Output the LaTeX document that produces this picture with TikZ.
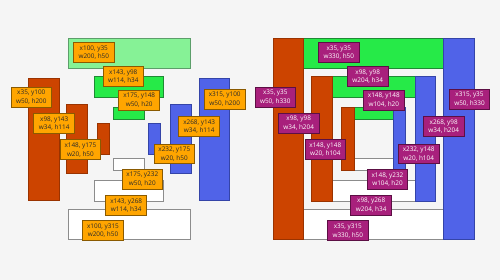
\documentclass[tikz,border=0pt]{standalone}
\usepackage{fontspec}
\setmainfont{Open Sans}
\definecolor{bgc}{HTML}{F5F5F5}
\definecolor{redf}{HTML}{CC4400}
\definecolor{redd}{HTML}{9A3300}
\definecolor{bluef}{HTML}{5063E8}
\definecolor{blued}{HTML}{3444A8}
\definecolor{greenf}{HTML}{26EA48}
\definecolor{greend}{HTML}{1E8A34}
\definecolor{lgreenf}{HTML}{86F296}
\definecolor{lgreend}{HTML}{5C9E6A}
\definecolor{whited}{HTML}{8C8C8C}
\definecolor{orangef}{HTML}{FFA500}
\definecolor{oranged}{HTML}{8A5A00}
\definecolor{magf}{HTML}{A8207C}
\definecolor{magd}{HTML}{5C0F44}
\definecolor{txtd}{HTML}{2A2A2A}
\tikzset{
  redbox/.style={fill=redf, draw=redd, line width=0.8pt},
  bluebox/.style={fill=bluef, draw=blued, line width=0.8pt},
  greenbox/.style={fill=greenf, draw=greend, line width=0.8pt},
  lgreenbox/.style={fill=lgreenf, draw=lgreend, line width=0.8pt},
  whitebox/.style={fill=white, draw=whited, line width=0.8pt},
  labbase/.style={minimum width=40.7pt, minimum height=19.8pt, inner sep=0pt, align=center, line width=0.8pt,
     font=\fontsize{6.4}{8.6}\selectfont},
  olab/.style={labbase, fill=orangef, draw=oranged, text=txtd},
  mlab/.style={labbase, fill=magf, draw=magd, text=white},
}
\begin{document}
\begin{tikzpicture}[x=1pt, y=-1pt]
\fill[bgc] (0,0) rectangle (500,280);
\useasboundingbox (0,0) rectangle (500,280);
% left panel
\begin{scope}[shift={(7.1,17)}, scale=0.61]
\draw[lgreenbox] (100,35) rectangle ++(200,50);
\draw[greenbox] (143,98) rectangle ++(114,34);
\draw[greenbox] (175,148) rectangle ++(50,20);
\draw[redbox] (35,100) rectangle ++(50,200);
\draw[redbox] (98,143) rectangle ++(34,114);
\draw[redbox] (148,175) rectangle ++(20,50);
\draw[bluebox] (315,100) rectangle ++(50,200);
\draw[bluebox] (268,143) rectangle ++(34,114);
\draw[bluebox] (232,175) rectangle ++(20,50);
\draw[whitebox] (175,232) rectangle ++(50,20);
\draw[whitebox] (143,268) rectangle ++(114,34);
\draw[whitebox] (100,315) rectangle ++(200,50);
\end{scope}
% right panel
\begin{scope}[shift={(251.6,17)}, scale=0.61]
\draw[greenbox] (35,35) rectangle ++(330,50);
\draw[greenbox] (98,98) rectangle ++(204,34);
\draw[greenbox] (148,148) rectangle ++(104,20);
\draw[whitebox] (35,315) rectangle ++(330,50);
\draw[whitebox] (98,268) rectangle ++(204,34);
\draw[whitebox] (148,232) rectangle ++(104,20);
\draw[redbox] (35,35) rectangle ++(50,330);
\draw[redbox] (98,98) rectangle ++(34,204);
\draw[redbox] (148,148) rectangle ++(20,104);
\draw[bluebox] (315,35) rectangle ++(50,330);
\draw[bluebox] (268,98) rectangle ++(34,204);
\draw[bluebox] (232,148) rectangle ++(20,104);
\end{scope}
% left labels
\node[olab] (la1) at (93.8,52.6) {x100, y35\\w200, h50};
\node[olab] (la2) at (123.3,76.6) {x143, y98\\w114, h34};
\node[olab] (la3) at (139.2,100.2) {x175, y148\\w50, h20};
\node[olab] (la4) at (31.3,97.3) {x35, y100\\w50, h200};
\node[olab] (la5) at (54.2,123.5) {x98, y143\\w34, h114};
\node[olab] (la6) at (80.4,149.8) {x148, y175\\w20, h50};
\node[olab] (la7) at (224.7,99.2) {x315, y100\\w50, h200};
\node[olab] (la8) at (199.2,126.5) {x268, y143\\w34, h114};
\node[olab] (la9) at (174.3,154) {x232, y175\\w20, h50};
\node[olab] (la10) at (142.3,179.3) {x175, y232\\w50, h20};
\node[olab] (la11) at (126.2,205.5) {x143, y268\\w114, h34};
\node[olab] (la12) at (103,230.4) {x100, y315\\w200, h50};
% right labels
\node[mlab] (ra1) at (338.8,52.7) {x35, y35\\w330, h50};
\node[mlab] (ra2) at (367.7,76.7) {x98, y98\\w204, h34};
\node[mlab] (ra3) at (383.8,100.3) {x148, y148\\w104, h20};
\node[mlab] (ra4) at (275.3,97.3) {x35, y35\\w50, h330};
\node[mlab] (ra5) at (298.7,123.3) {x98, y98\\w34, h204};
\node[mlab] (ra6) at (325.3,149.7) {x148, y148\\w20, h104};
\node[mlab] (ra7) at (469.5,99.3) {x315, y35\\w50, h330};
\node[mlab] (ra8) at (443.7,126.7) {x268, y98\\w34, h204};
\node[mlab] (ra9) at (418.7,154) {x232, y148\\w20, h104};
\node[mlab] (ra10) at (387.5,179.7) {x148, y232\\w104, h20};
\node[mlab] (ra11) at (371.2,205.3) {x98, y268\\w204, h34};
\node[mlab] (ra12) at (347.8,230.8) {x35, y315\\w330, h50};
\end{tikzpicture}
\end{document}
